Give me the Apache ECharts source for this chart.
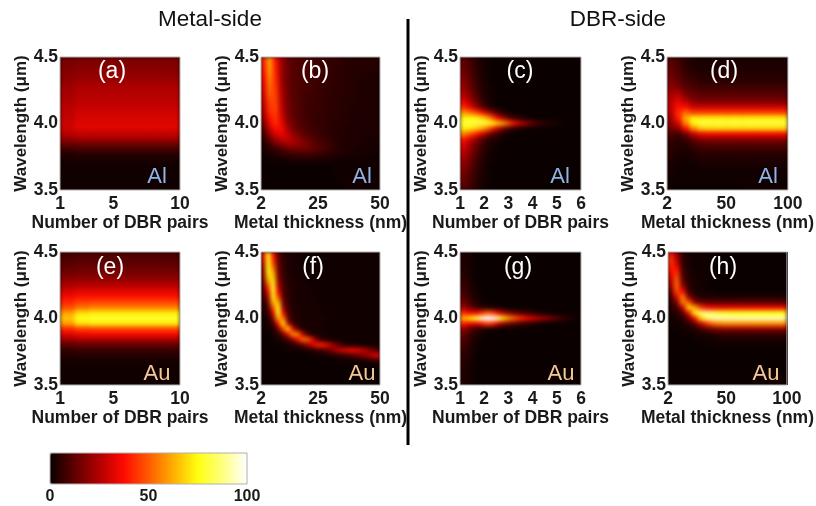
<!DOCTYPE html>
<html><head><meta charset="utf-8">
<script src="https://cdn.jsdelivr.net/npm/echarts@6/dist/echarts.min.js"></script>
<style>html,body{margin:0;padding:0;background:#fff}#c{width:816px;height:506px}</style>
</head><body><div id="c"></div>
<script>
// Rows run from 4.48 um (top) to 3.52 um (bottom) in 0.04 um steps. Short rows end in black (0).
const wavelengths=[4.48,4.44,4.40,4.36,4.32,4.28,4.24,4.20,4.16,4.12,4.08,4.04,4.00,3.96,3.92,3.88,3.84,3.80,3.76,3.72,3.68,3.64,3.60,3.56,3.52];
const panelA=[
[16,17,17,17,17,17,17,17],[17,18,18,18,18,18,18,18],[18,19,19,19,19,19,19,19],[19,20,20,20,20,20,20,20],[20,22,22,22,22,22,22,22],
[22,24,24,24,24,24,24,24],[23,25,25,25,25,25,25,25],[24,26,26,26,26,26,26,26],[25,27,27,27,27,27,27,27],[26,28,28,28,28,28,28,28],
[27,30,30,30,30,30,30,30],[28,31,31,31,31,31,31,31],[29,32,32,32,32,32,32,32],[29,32,32,32,32,32,32,32],[26,28,28,28,28,28,28,28],
[20,22,22,22,22,22,22,22],[13,14,14,14,14,14,14,14],[7,8,8,8,8,8,8,8],[3,4,4,4,4,4,4,4],[2,2,2,2,2,2,2,2],[1,1,1,1,1,1,1,1],[1,1,1,1,1,1,1,1],[1,1,1,1,1,1,1,1],[1,1,1,1,1,1,1,1],[1,1,1,1,1,1,1,1]];
const panelB=[
[42,60,38,22,14,11,10,9,9,8,7,6,6,5,4,4,4,4,4,4],[41,60,39,22,14,11,10,9,9,8,7,6,6,5,4,4,4,4,4,4],[40,59,40,22,14,11,10,9,8,8,7,6,5,5,4,4,4,4,4,4],
[38,57,41,22,14,11,10,9,8,8,7,6,5,5,4,4,4,3,3,3],[36,55,42,23,14,11,10,9,8,7,7,6,5,5,4,4,3,3,3,3],[34,53,43,23,14,11,10,9,8,7,6,6,5,5,4,4,3,3,3,3],
[32,51,44,24,15,11,10,8,8,7,6,6,5,5,4,4,3,3,3,3],[30,49,45,25,15,11,10,8,8,7,6,5,5,4,4,4,3,3,3,3],[28,46,46,26,16,12,10,8,7,7,6,5,5,4,4,4,3,3,3,3],
[26,44,46,27,16,12,10,8,7,7,6,5,5,4,4,3,3,3,3,3],[24,42,45,29,17,12,10,8,7,6,6,5,5,4,4,3,3,3,3,3],[20,38,44,31,18,13,10,8,7,6,6,5,5,4,4,3,3,3,3,3],
[16,34,42,34,20,14,11,9,7,6,6,5,4,4,4,3,3,3,3,3],[12,28,38,36,24,16,12,10,8,7,6,5,4,4,3,3,3,3,3,3],[8,22,31,34,28,20,15,11,9,8,6,5,4,4,3,3,3,3,3,3],
[5,14,22,27,28,24,19,15,12,9,7,6,4,4,3,3,3,2,2,2],[3,8,13,18,22,22,20,17,14,11,9,7,5,4,3,3,3,2,2,2],[2,4,6,9,12,14,14,14,13,11,9,7,5,4,3,3,2,2,2,2],
[1,2,3,4,5,6,7,7,7,6,5,4,3,3,2,2,2,2,1,1],[0,1,1,1,2,2,2,2,2,2,2,2,1,1,1,1,1,1,1,1],[0,0,0,0,0,0,0,0,0,0,0,0,1,1,1,1,1,1,1,1],
[0,0,0,0,0,0,0,0,0,0,0,0,1,1,1,1,1,1,1,1],[0,0,0,0,0,0,0,0,0,0,0,0,1,1,1,1,1,1,1,1],[0,0,0,0,0,0,0,0,0,0,0,0,0,1,1,1,1,1,1,1],[0,0,0,0,0,0,0,0,0,0,0,0,0,0,1,1,1,1,1,1]];
const panelC=[
[13,10,7,4,2,1],[14,11,8,4,2,1],[16,12,8,5,2,1],[18,13,9,5,3,1],[20,15,10,6,3,1],[22,17,11,7,3,2,1],[25,19,13,8,4,2,1],[29,23,16,10,5,2,1],
[35,29,21,13,7,3,1],[45,38,30,20,12,6,3,1],[60,56,52,46,38,28,18,10,5,2,1],[72,74,74,72,68,60,48,34,24,14,8,5,3,1],
[80,80,80,80,80,78,74,66,60,50,40,32,24,18,13,9,6,4,3,2,1,0,0,0],[72,72,70,66,60,52,40,28,18,11,6,3,2,1],[58,52,46,38,30,20,12,7,3,1],[40,33,26,18,11,6,3,2,1],
[34,27,19,13,7,4,2,1],[30,24,17,11,6,3,1],[26,21,15,9,5,2,1],[22,18,12,7,4,2,1],[20,16,11,6,3,1],[18,14,9,5,3,1],[16,12,8,5,2,1],[14,11,7,4,2,1],[12,10,6,4,2,1]];
const panelD=[
[12,8,5,3,2,2,2,2,2,2,2,2,2,2,2,2],[13,9,5,3,3,3,3,3,3,3,3,3,3,3,3,3],[14,10,6,4,3,3,3,3,3,3,3,3,3,3,3,3],[15,11,7,5,4,4,4,4,4,4,4,4,4,4,4,4],[17,13,9,7,5,5,5,5,5,5,5,5,5,5,5,5],
[19,16,11,9,7,7,7,7,7,7,7,7,7,7,7,7],[22,22,14,12,10,10,10,10,10,10,10,10,10,10,10,10],[25,28,20,15,13,13,13,13,13,13,13,13,13,13,13,13],[27,33,28,20,18,18,18,18,18,18,18,18,18,18,18,18],
[28,38,38,30,30,30,30,30,30,30,30,30,30,30,30,30],[26,42,52,46,46,46,46,46,46,46,46,46,46,46,46,46],[23,40,62,72,72,72,72,72,72,72,72,72,72,72,72,72],[20,30,55,74,80,80,80,80,80,80,80,80,80,80,80,80],
[15,20,38,55,66,68,68,68,68,68,68,68,68,68,68,68],[10,8,15,28,35,36,36,36,36,36,36,36,36,36,36,36],[7,5,7,13,18,19,19,19,19,19,19,19,19,19,19,19],[5,4,4,7,10,11,11,11,11,11,11,11,11,11,11,11],
[5,3,3,5,6,7,7,7,7,7,7,7,7,7,7,7],[4,2,2,3,4,4,4,4,4,4,4,4,4,4,4,4],[3,2,1,2,3,3,3,3,3,3,3,3,3,3,3,3],[2,1,1,1,2,2,2,2,2,2,2,2,2,2,2,2],[2,1,1,1,1,1,1,1,1,1,1,1,1,1,1,1],[1,1,1,1,1,1,1,1,1,1,1,1,1,1,1,1],[1,1,1,1,1,1,1,1,1,1,1,1,1,1,1,1],[1,0,0,0,0,0,0,0,0,0,1,1,1,1,1,1]];
const panelE=[
[9,10,10,10,10,10,10,10],[10,11,11,11,11,11,11,11],[12,13,13,13,13,13,13,13],[14,15,15,15,15,15,15,15],[17,18,18,18,18,18,18,18],[21,22,22,22,22,22,22,22],[25,27,27,27,27,27,27,27],
[31,33,33,33,33,33,33,33],[36,39,39,39,39,39,39,39],[42,46,47,47,47,47,47,47],[48,54,56,56,56,56,56,56],[60,70,72,72,72,72,72,72],[66,76,78,78,78,78,78,78],[60,70,72,72,72,72,72,72],
[42,46,47,47,47,47,47,47],[32,35,36,36,36,36,36,36],[22,24,24,24,24,24,24,24],[12,13,13,13,13,13,13,13],[6,7,7,7,7,7,7,7],[3,4,4,4,4,4,4,4],[2,2,2,2,2,2,2,2],[1,1,1,1,1,1,1,1],[1,1,1,1,1,1,1,1],[1,1,1,1,1,1,1,1],[1,1,1,1,1,1,1,1]];
const panelF=[
[35,76,38,12,5,3,2,2,1,1,1,1,1,1,1,1,1,1,1,1,1,1,1,1],[30,76,42,13,6,3,2,2,1,1,1,1,1,1,1,1,1,1,1,1,1,1,1,1],[25,76,48,15,6,3,2,2,1,1,1,1,1,1,1,1,1,1,1,1,1,1,1,1],
[20,74,58,16,6,3,2,2,1,1,1,1,1,1,1,1,1,1,1,1,1,1,1,1],[17,70,66,18,7,4,2,2,2,1,1,1,1,1,1,1,1,1,1,1,1,1,1,1],[14,60,72,22,8,4,3,2,2,1,1,1,1,1,1,1,1,1,1,1,1,1,1,1],
[10,46,78,28,9,4,3,2,2,2,1,1,1,1,1,1,1,1,1,1,1,1,1,1],[8,35,78,36,10,5,3,2,2,2,1,1,1,1,1,1,1,1,1,1,1,1,1,1],[6,25,74,46,12,5,3,2,2,2,2,1,1,1,1,1,1,1,1,1,1,1,1,1],
[4,16,64,64,15,6,3,2,2,2,2,1,1,1,1,1,1,1,1,1,1,1,1,1],[3,10,48,76,22,7,4,3,2,2,2,2,1,1,1,1,1,1,1,1,1,1,1,1],[2,6,32,76,36,9,4,3,2,2,2,2,1,1,1,1,1,1,1,1,1,1,1,1],
[1,3,18,62,54,12,5,3,2,2,2,2,2,1,1,1,1,1,1,1,1,1,1,1],[1,2,8,38,72,28,7,4,2,2,2,2,2,1,1,1,1,1,1,1,1,1,1,1],[1,1,3,15,46,68,34,10,4,2,2,2,2,1,1,1,1,1,1,1,1,1,1,1],
[0,1,2,5,14,35,58,54,27,8,3,2,2,2,1,1,1,1,1,1,1,1,1,1],[0,0,1,2,4,9,20,38,52,50,32,12,5,2,1,1,1,1,1,1,1,1,1,1],[0,0,0,1,1,2,4,7,13,22,33,40,40,33,22,13,6,3,2,1,1,1,1,1],
[0,0,0,0,0,1,1,1,2,3,4,6,9,13,19,26,31,34,35,33,28,22,15,10],[0,0,0,0,0,0,0,0,0,0,1,1,1,2,3,4,5,7,10,13,17,22,28,34],[0,0,0,0,0,0,0,0,0,0,0,0,0,0,0,1,1,1,1,1,2,3,4,6],
[0,0],[0,0],[0,0],[0,0]];
const panelG=[
[3,2,1],[3,2,1],[4,2,1],[4,3,1],[5,3,1],[6,4,2],[7,5,2,1],[9,6,3,1],[12,8,4,2,1],[16,11,6,3,1],[24,18,12,8,5,4,3,2,1],
[44,38,36,36,44,50,46,36,26,20,15,12,9,7,5,3,2,1],
[62,66,72,82,96,100,100,90,70,60,52,45,40,35,30,26,22,18,14,10,7,4,2,1],
[42,36,34,34,40,46,42,32,22,17,13,10,7,5,4,2,1],[22,16,10,7,4,3,2,1],[15,10,5,3,1],[11,7,4,2,1],[9,6,3,1],[7,5,2,1],[6,4,2],[5,3,1],[4,3,1],[4,2,1],[3,2,1],[3,2,1]];
const panelH=[
[40,22,5,2,1,1,1],[44,26,6,2,1,1,1],[42,32,7,2,1,1,1],[38,40,9,3,1,1,1],[32,46,11,3,2,1,1],[26,50,14,4,2,1,1],[20,50,22,5,2,1,1],[13,46,38,9,3,2,1,1],
[8,32,55,20,7,4,3,3,3,3,3,3,3,3,3,3,3,3,3,3],[5,17,54,50,22,14,12,12,12,12,12,12,12,12,12,12,12,12,12,12],[3,8,28,68,62,46,38,36,35,35,35,35,35,35,35,35,35,35,35,35],
[2,4,12,36,72,86,88,84,80,78,76,76,76,76,76,76,76,76,76,76],[1,2,5,14,36,66,84,90,92,92,92,92,92,92,92,92,92,92,92,92],[1,1,2,5,13,28,42,52,56,58,58,58,58,58,58,58,58,58,58,58],
[0,1,1,2,4,8,12,16,19,20,20,20,20,20,20,20,20,20,20,20],[0,0,1,1,1,2,3,4,5,6,6,6,6,6,6,6,6,6,6,6],[0,0,0,0,1,1,1,1,2,2,2,2,2,2,2,2,2,2,2,2],[0,0,0,0,0,0,1,1,1,1,1,1,1,1,1,1,1,1,1,1],
[0],[0],[0],[0],[0],[0,0,0,0,0,0,0,0,0,0,0,0,0,0,1,1,1,1,1,1],[0,0,0,0,0,0,0,0,0,0,0,0,0,0,1,1,1,1,1,1]];
const grids=[panelA,panelB,panelC,panelD,panelE,panelF,panelG,panelH];
const xMins=[1,2,1,2,1,2,1,2];
const xMaxs=[10,50,6,100,10,50,6,100];
const xTicks=[[1,5,10],[2,25,50],[1,2,3,4,5,6],[2,50,100],[1,5,10],[2,25,50],[1,2,3,4,5,6],[2,50,100]];
const xNames=['Number of DBR pairs','Metal thickness (nm)','Number of DBR pairs','Metal thickness (nm)','Number of DBR pairs','Metal thickness (nm)','Number of DBR pairs','Metal thickness (nm)'];
const yTicks=[3.5,4.0,4.5];
const yName='Wavelength (\u03BCm)';
const colorTicks=[0,50,100];
const panelLetters=['(a)','(b)','(c)','(d)','(e)','(f)','(g)','(h)'];
const metals=['Al','Al','Al','Al','Au','Au','Au','Au'];
const headers=['Metal-side','DBR-side'];
const hotColors=['#0a0000','#5f0000','#b20000','#ff0a00','#ff5a00','#ffae00','#ffff0f','#ffff7f','#ffffff'];

const boxes=[[60,57,120,133],[261,57,119,133],[460,57,121,133],[667,57,121,133],[60,252,120,133],[261,252,119,133],[460,252,121,133],[668,252,120,133]];
const letterPos=[[112,72],[315,72],[520,72],[724,72],[110,268],[313,268],[518,268],[723,268]];
const metalPos=[[157,177],[362,177],[560,177],[768,177],[157,374],[362,374],[561,374],[766,374]];
const nameGaps=[29,30,29,29,29,30,29,29];
const F='"Liberation Sans",Arial,sans-serif';
const dark='#1a1a1a';
const option={animation:false,backgroundColor:'transparent',grid:[],xAxis:[],yAxis:[],series:[],graphic:[]};
grids.forEach((g,p)=>{
  const b=boxes[p],cols=Math.max(...g.map(r=>r.length));
  option.grid.push({left:b[0],top:b[1],width:b[2],height:b[3],show:true,zlevel:1,backgroundColor:'transparent',borderColor:'#b0b0b0',borderWidth:1});
  const xi=option.xAxis.length,yi=option.yAxis.length;
  option.xAxis.push({type:'category',gridIndex:p,show:false,zlevel:1,data:Array.from({length:cols},(_,i)=>i)});
  option.xAxis.push({type:'value',gridIndex:p,zlevel:1,position:'bottom',min:xMins[p],max:xMaxs[p],splitLine:{show:false},axisLine:{show:false},axisTick:{show:false},
    axisLabel:{customValues:xTicks[p],margin:5,fontFamily:F,fontWeight:'bold',fontSize:17.5,color:dark,showMinLabel:true,showMaxLabel:true,hideOverlap:false},
    name:xNames[p],nameLocation:'middle',nameGap:19,nameTextStyle:{fontFamily:F,fontWeight:'bold',fontSize:17.5,color:dark}});
  option.yAxis.push({type:'category',gridIndex:p,show:false,zlevel:1,data:wavelengths.slice().reverse().map(String)});
  option.yAxis.push({type:'value',gridIndex:p,zlevel:1,position:'left',min:3.5,max:4.5,splitLine:{show:false},axisLine:{show:false},axisTick:{show:false},
    axisLabel:{customValues:yTicks,margin:2,formatter:v=>v.toFixed(1),fontFamily:F,fontWeight:'bold',fontSize:17.5,color:dark,hideOverlap:false},
    name:yName,nameLocation:'middle',nameRotate:90,nameGap:nameGaps[p],nameTextStyle:{fontFamily:F,fontWeight:'bold',fontSize:17,color:dark}});
  const data=[];
  g.forEach((row,r)=>{for(let c=0;c<cols;c++)data.push([c,g.length-1-r,row[c]||0]);});
  option.series.push({type:'heatmap',xAxisIndex:xi,yAxisIndex:yi,data,zlevel:0,z:2,progressive:0,itemStyle:{borderWidth:0},emphasis:{disabled:true}});
  // dark underlay keeps the blur from washing the panel edge out; white frame crops the blur to the panel
  option.graphic.push({type:'rect',zlevel:0,z:-1,shape:{x:b[0]-6,y:b[1]-6,width:b[2]+12,height:b[3]+12},style:{fill:'#150000'}});
  option.graphic.push({type:'rect',zlevel:1,z:-1,shape:{x:b[0]-6,y:b[1]-6,width:b[2]+12,height:b[3]+12},style:{fill:'none',stroke:'#fff',lineWidth:12}});
  option.graphic.push({type:'text',zlevel:2,style:{x:letterPos[p][0],y:letterPos[p][1],text:panelLetters[p],fill:'#fff',font:'23px '+F,align:'center',verticalAlign:'middle'}});
  option.graphic.push({type:'text',zlevel:2,style:{x:metalPos[p][0],y:metalPos[p][1],text:metals[p],fill:metals[p]==='Al'?'#8db4e6':'#f5c996',font:'22px '+F,align:'center',verticalAlign:'middle'}});
});
// colour bar frame and ticks
option.grid.push({left:50,top:453,width:197,height:31,show:true,zlevel:2,backgroundColor:'transparent',borderColor:'#b0b0b0',borderWidth:1});
option.xAxis.push({type:'value',gridIndex:8,zlevel:2,min:0,max:100,splitLine:{show:false},axisLine:{show:false},axisTick:{show:false},
  axisLabel:{customValues:colorTicks,margin:5,fontFamily:F,fontWeight:'bold',fontSize:16,color:dark,hideOverlap:false}});
option.yAxis.push({type:'value',gridIndex:8,show:false,min:0,max:1});
option.visualMap={type:'continuous',min:0,max:100,seriesIndex:[0,1,2,3,4,5,6,7],calculable:false,hoverLink:false,orient:'horizontal',left:50,top:453,itemWidth:31,itemHeight:197,padding:0,text:null,showLabel:false,zlevel:1,inRange:{color:hotColors}};
option.graphic.push({type:'text',zlevel:2,style:{x:210,y:20,text:headers[0],fill:'#111',font:'22.5px '+F,align:'center',verticalAlign:'middle'}});
option.graphic.push({type:'text',zlevel:2,style:{x:618,y:20,text:headers[1],fill:'#111',font:'22.5px '+F,align:'center',verticalAlign:'middle'}});
option.graphic.push({type:'rect',zlevel:2,shape:{x:406.5,y:19,width:3,height:426},style:{fill:'#000'}});
const chart=echarts.init(document.getElementById('c'),null,{renderer:'canvas'});
chart.setOption(option);
const canv=document.querySelectorAll('#c canvas');
canv.forEach((el,i)=>{el.style.filter=i===0?'blur(2.2px)':'blur(0.4px)';});
</script></body></html>
